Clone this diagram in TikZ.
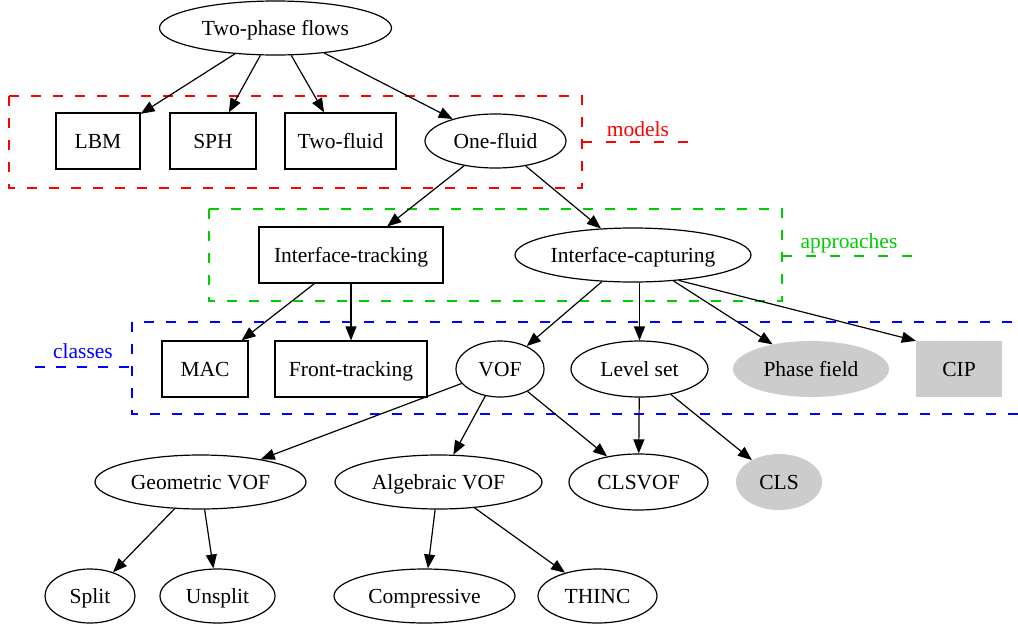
\documentclass[tikz,border=0pt]{standalone}
\usepackage{fontspec}
\setmainfont{Liberation Serif}
\usetikzlibrary{shapes.geometric,arrows.meta}
\definecolor{shade}{RGB}{204,204,204}
\definecolor{approachgreen}{RGB}{0,205,0}
\begin{document}
\begin{tikzpicture}[x=1pt,y=-1pt,
  every node/.style={font=\fontsize{21.5}{26}\selectfont, inner sep=0pt,
                     text height=16pt, text depth=2pt},
  box/.style={draw, line width=1.2pt, rectangle, minimum height=56pt},
  oval/.style={draw, line width=1.2pt, ellipse, minimum height=54pt},
  grayoval/.style={ellipse, fill=shade, minimum height=56pt},
  graybox/.style={rectangle, fill=shade, minimum height=56pt},
  edge/.style={line width=1.2pt, -{Triangle[length=14pt,width=11pt]}},
  cluster/.style={line width=1.2pt, dash pattern=on 10pt off 12pt},
  tagline/.style={line width=1.2pt, dash pattern=on 9.5pt off 14.5pt},
  tag/.style={anchor=base, text height=, text depth=}
]
\useasboundingbox (0,0) rectangle (1018,627);

% grouping frames
\draw[cluster, red]           (9,96) rectangle (582,188);
\draw[cluster, approachgreen] (209,209) rectangle (782,301);
\draw[cluster, blue]          (132,322) rectangle (1019,414);

% frame captions with their leader lines
\coordinate (mA) at (582,142); \coordinate (mB) at (690,142);
\coordinate (aA) at (782,256); \coordinate (aB) at (915,256);
\coordinate (cA) at (132,367); \coordinate (cB) at (35,367);
\draw[tagline, red]           (mA) -- (mB);
\draw[tagline, approachgreen] (aA) -- (aB);
\draw[line width=1.2pt, dash pattern=on 10pt off 11pt, blue] (cB) -- (cA);
\node[tag, text=red]           (models)     at (638,136) {models};
\node[tag, text=approachgreen] (approaches) at (849,248) {approaches};
\node[tag, text=blue]          (classes)    at (83,358)  {classes};

% nodes
\node[oval, minimum width=232pt] (tpf) at (275.5,28) {Two-phase flows};

\node[box, minimum width=84pt]  (lbm)      at (98,141)    {LBM};
\node[box, minimum width=86pt]  (sph)      at (213,141)   {SPH};
\node[box, minimum width=111pt] (twofluid) at (340.5,141) {Two-fluid};
\node[oval, minimum width=141pt] (onefluid) at (495.5,141) {One-fluid};

\node[box, minimum width=184pt]  (itrack) at (351,255) {Interface-tracking};
\node[oval, minimum width=236pt] (icapt)  at (633,255) {Interface-capturing};

\node[box, minimum width=86pt]   (mac)    at (205,369)   {MAC};
\node[box, minimum width=152pt]  (front)  at (351,369)   {Front-tracking};
\node[oval, minimum width=88pt, minimum height=56pt]  (vof)  at (500,369)   {VOF};
\node[oval, minimum width=137pt, minimum height=56pt] (lset) at (639.5,369) {Level set};
\node[grayoval, minimum width=156pt] (pfield) at (811,369) {Phase field};
\node[graybox, minimum width=86pt]   (cip)    at (959,369) {CIP};

\node[oval, minimum width=211pt] (gvof)   at (200.5,482) {Geometric VOF};
\node[oval, minimum width=207pt] (avof)   at (438.5,482) {Algebraic VOF};
\node[oval, minimum width=139pt, minimum height=56pt] (clsvof) at (638.5,482) {CLSVOF};
\node[grayoval, minimum width=86pt] (cls) at (779,482) {CLS};

\node[oval, minimum width=90pt]  (split)   at (90,596)    {Split};
\node[oval, minimum width=115pt] (unsplit) at (217.5,596) {Unsplit};
\node[oval, minimum width=181pt] (compr)   at (424.5,596) {Compressive};
\node[oval, minimum width=119pt] (thinc)   at (597.5,596) {THINC};

% connectors
\draw[edge] (tpf) -- (lbm);
\draw[edge] (tpf) -- (sph);
\draw[edge] (tpf) -- (twofluid);
\draw[edge] (tpf) -- (onefluid);
\draw[edge] (onefluid) -- (itrack);
\draw[edge] (onefluid) -- (icapt);
\draw[edge] (itrack) -- (mac);
\draw[edge] (itrack) -- (front);
\draw[edge] (icapt) -- (vof);
\draw[edge] (icapt.south -| lset) -- (lset);
\draw[edge] (icapt) -- (pfield);
\draw[edge] (icapt.-29) -- (cip.north west);
\draw[edge] (vof) -- (gvof);
\draw[edge] (vof) -- (avof);
\draw[edge] (vof) -- (clsvof);
\draw[edge] (lset) -- (clsvof);
\draw[edge] (lset) -- (cls);
\draw[edge] (gvof) -- (split);
\draw[edge] (gvof) -- (unsplit);
\draw[edge] (avof) -- (compr);
\draw[edge] (avof) -- (thinc);
\end{tikzpicture}
\end{document}
